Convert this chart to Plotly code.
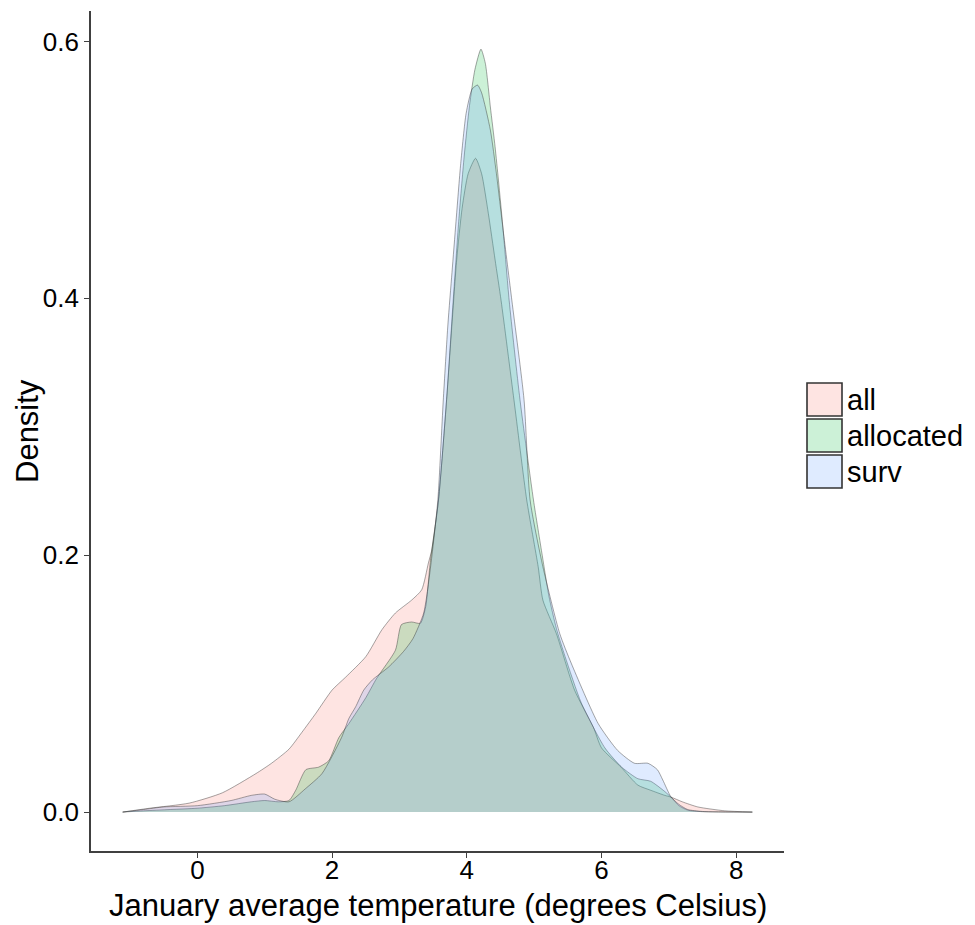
import plotly.graph_objects as go

# Kernel density estimates of January average temperature, by group
all_x = [-1.11, -0.71, -0.12, 0.37, 0.87, 1.1, 1.36, 1.55, 1.76, 2.0, 2.2, 2.5, 2.74, 2.94,
         3.18, 3.33, 3.43, 3.48, 3.58, 3.70, 3.78, 3.85, 3.93, 4.02, 4.13, 4.22, 4.32, 4.42,
         4.51, 4.70, 4.89, 5.06, 5.13, 5.33, 5.6, 5.88, 6.0, 6.29, 6.54, 6.73, 6.94, 7.03,
         7.2, 7.43, 7.83, 8.24]
all_y = [0.0, 0.003, 0.007, 0.015, 0.030, 0.038, 0.049, 0.062, 0.077, 0.095, 0.105, 0.121,
         0.142, 0.155, 0.165, 0.173, 0.194, 0.204, 0.243, 0.321, 0.38, 0.43, 0.47, 0.497,
         0.509, 0.497, 0.466, 0.43, 0.398, 0.321, 0.243, 0.191, 0.165, 0.139, 0.095, 0.066,
         0.05, 0.035, 0.021, 0.017, 0.013, 0.0117, 0.008, 0.004, 0.001, 0.0]

allocated_x = [-1.11, -0.8, -0.4, 0.0, 0.4, 0.8, 1.0, 1.2, 1.36, 1.46, 1.61, 1.8, 1.95, 2.1,
               2.25, 2.5, 2.66, 2.94, 3.03, 3.18, 3.31, 3.39, 3.46, 3.58, 3.70, 3.80, 3.88,
               3.96, 4.04, 4.12, 4.21, 4.275, 4.35, 4.42, 4.47, 4.54, 4.63, 4.79, 4.99, 5.12,
               5.22, 5.33, 5.46, 5.7, 6.05, 6.3, 6.54, 6.73, 6.94, 7.03, 7.15, 7.28, 7.5, 8.24]
allocated_y = [0.0, 0.001, 0.002, 0.003, 0.005, 0.008, 0.009, 0.008, 0.009, 0.017, 0.033,
               0.035, 0.040, 0.058, 0.069, 0.089, 0.104, 0.126, 0.146, 0.148, 0.147, 0.160,
               0.196, 0.243, 0.321, 0.40, 0.46, 0.51, 0.55, 0.578, 0.594, 0.583, 0.549,
               0.518, 0.492, 0.453, 0.398, 0.321, 0.243, 0.20, 0.168, 0.143, 0.121, 0.085,
               0.05, 0.035, 0.026, 0.024, 0.016, 0.0117, 0.005, 0.0015, 0.0003, 0.0]

surv_x = [-1.11, -0.8, -0.5, 0.0, 0.5, 0.8, 1.0, 1.15, 1.36, 1.6, 1.85, 2.14, 2.25, 2.35,
          2.47, 2.6, 2.84, 3.06, 3.2, 3.36, 3.46, 3.57, 3.65, 3.72, 3.78, 3.84, 3.91, 3.99,
          4.08, 4.16, 4.22, 4.35, 4.44, 4.54, 4.67, 4.85, 4.94, 5.13, 5.38, 5.55, 5.95,
          6.24, 6.49, 6.69, 6.83, 6.91, 7.03, 7.15, 7.28, 7.5, 8.24]
surv_y = [0.0, 0.002, 0.004, 0.005, 0.009, 0.013, 0.014, 0.010, 0.008, 0.018, 0.030, 0.058,
          0.073, 0.082, 0.095, 0.103, 0.113, 0.125, 0.135, 0.155, 0.19, 0.243, 0.32, 0.38,
          0.42, 0.46, 0.505, 0.544, 0.563, 0.566, 0.560, 0.531, 0.497, 0.453, 0.398, 0.321,
          0.243, 0.191, 0.139, 0.116, 0.069, 0.048, 0.038, 0.038, 0.033, 0.025, 0.012,
          0.006, 0.002, 0.0005, 0.0]

groups = ["all", "allocated", "surv"]
fills = ["rgba(248,118,109,0.2)", "rgba(0,186,56,0.2)", "rgba(97,156,255,0.2)"]
series = [(all_x, all_y), (allocated_x, allocated_y), (surv_x, surv_y)]

x_ticks = [0, 2, 4, 6, 8]
y_ticks = [0.0, 0.2, 0.4, 0.6]

FONT = "Liberation Sans, Arial, sans-serif"
OUTLINE = "rgba(50,50,50,0.55)"

fig = go.Figure()
for name, fill, (xs, ys) in zip(groups, fills, series):
    fig.add_trace(go.Scatter(
        x=xs, y=ys, name=name, mode="lines", fill="tozeroy", fillcolor=fill,
        line=dict(color=OUTLINE, width=0.8, shape="spline", smoothing=0.6),
        showlegend=False, hoverinfo="skip"))

# Plot panel geometry in pixels (used to place the key and titles around the panel)
W, H = 975, 925
ML, MR, MT, MB = 91, 191, 11, 74
pw, ph = W - ML - MR, H - MT - MB


def px_x(p):
    return (p - ML) / pw


def px_y(p):
    return (H - MB - p) / ph


shapes = []
annotations = [
    dict(xref="paper", yref="paper", x=0.5, y=px_y(905), text="January average temperature (degrees Celsius)",
         showarrow=False, xanchor="center", yanchor="middle",
         font=dict(family=FONT, size=31, color="black")),
    dict(xref="paper", yref="paper", x=px_x(27), y=0.5, text="Density", textangle=-90,
         showarrow=False, xanchor="center", yanchor="middle",
         font=dict(family=FONT, size=31, color="black")),
]

# Legend key: outlined swatches with labels
key_top = 383
key_h = 36
for i, (name, fill) in enumerate(zip(groups, fills)):
    top = key_top + i * key_h
    shapes.append(dict(type="rect", xref="paper", yref="paper",
                       x0=px_x(807), x1=px_x(842), y0=px_y(top + 33), y1=px_y(top),
                       fillcolor=fill, line=dict(color="#333333", width=1.6)))
    annotations.append(dict(xref="paper", yref="paper", x=px_x(845), y=px_y(top + 17),
                            text=name, showarrow=False, xanchor="left", yanchor="middle",
                            font=dict(family=FONT, size=29, color="black")))

fig.update_layout(
    width=W, height=H,
    margin=dict(l=ML, r=MR, t=MT, b=MB, autoexpand=False),
    paper_bgcolor="white", plot_bgcolor="white",
    font=dict(family=FONT, color="black"),
    shapes=shapes, annotations=annotations,
)
fig.update_xaxes(
    range=[-1.58, 8.71], tickvals=x_ticks, ticktext=[str(v) for v in x_ticks],
    showgrid=False, zeroline=False, showline=True, linecolor="#404040", linewidth=1.6,
    ticks="outside", ticklen=5, tickwidth=1.4, tickcolor="#404040",
    tickfont=dict(size=26, color="black"), automargin=False, ticklabelstandoff=-10,
)
fig.update_yaxes(
    range=[-0.0303, 0.6237], tickvals=y_ticks, ticktext=[f"{v:.1f}" for v in y_ticks],
    showgrid=False, zeroline=False, showline=True, linecolor="#404040", linewidth=1.6,
    ticks="outside", ticklen=5, tickwidth=1.4, tickcolor="#404040",
    tickfont=dict(size=26, color="black"), automargin=False,
)

fig.write_html("out.html")
